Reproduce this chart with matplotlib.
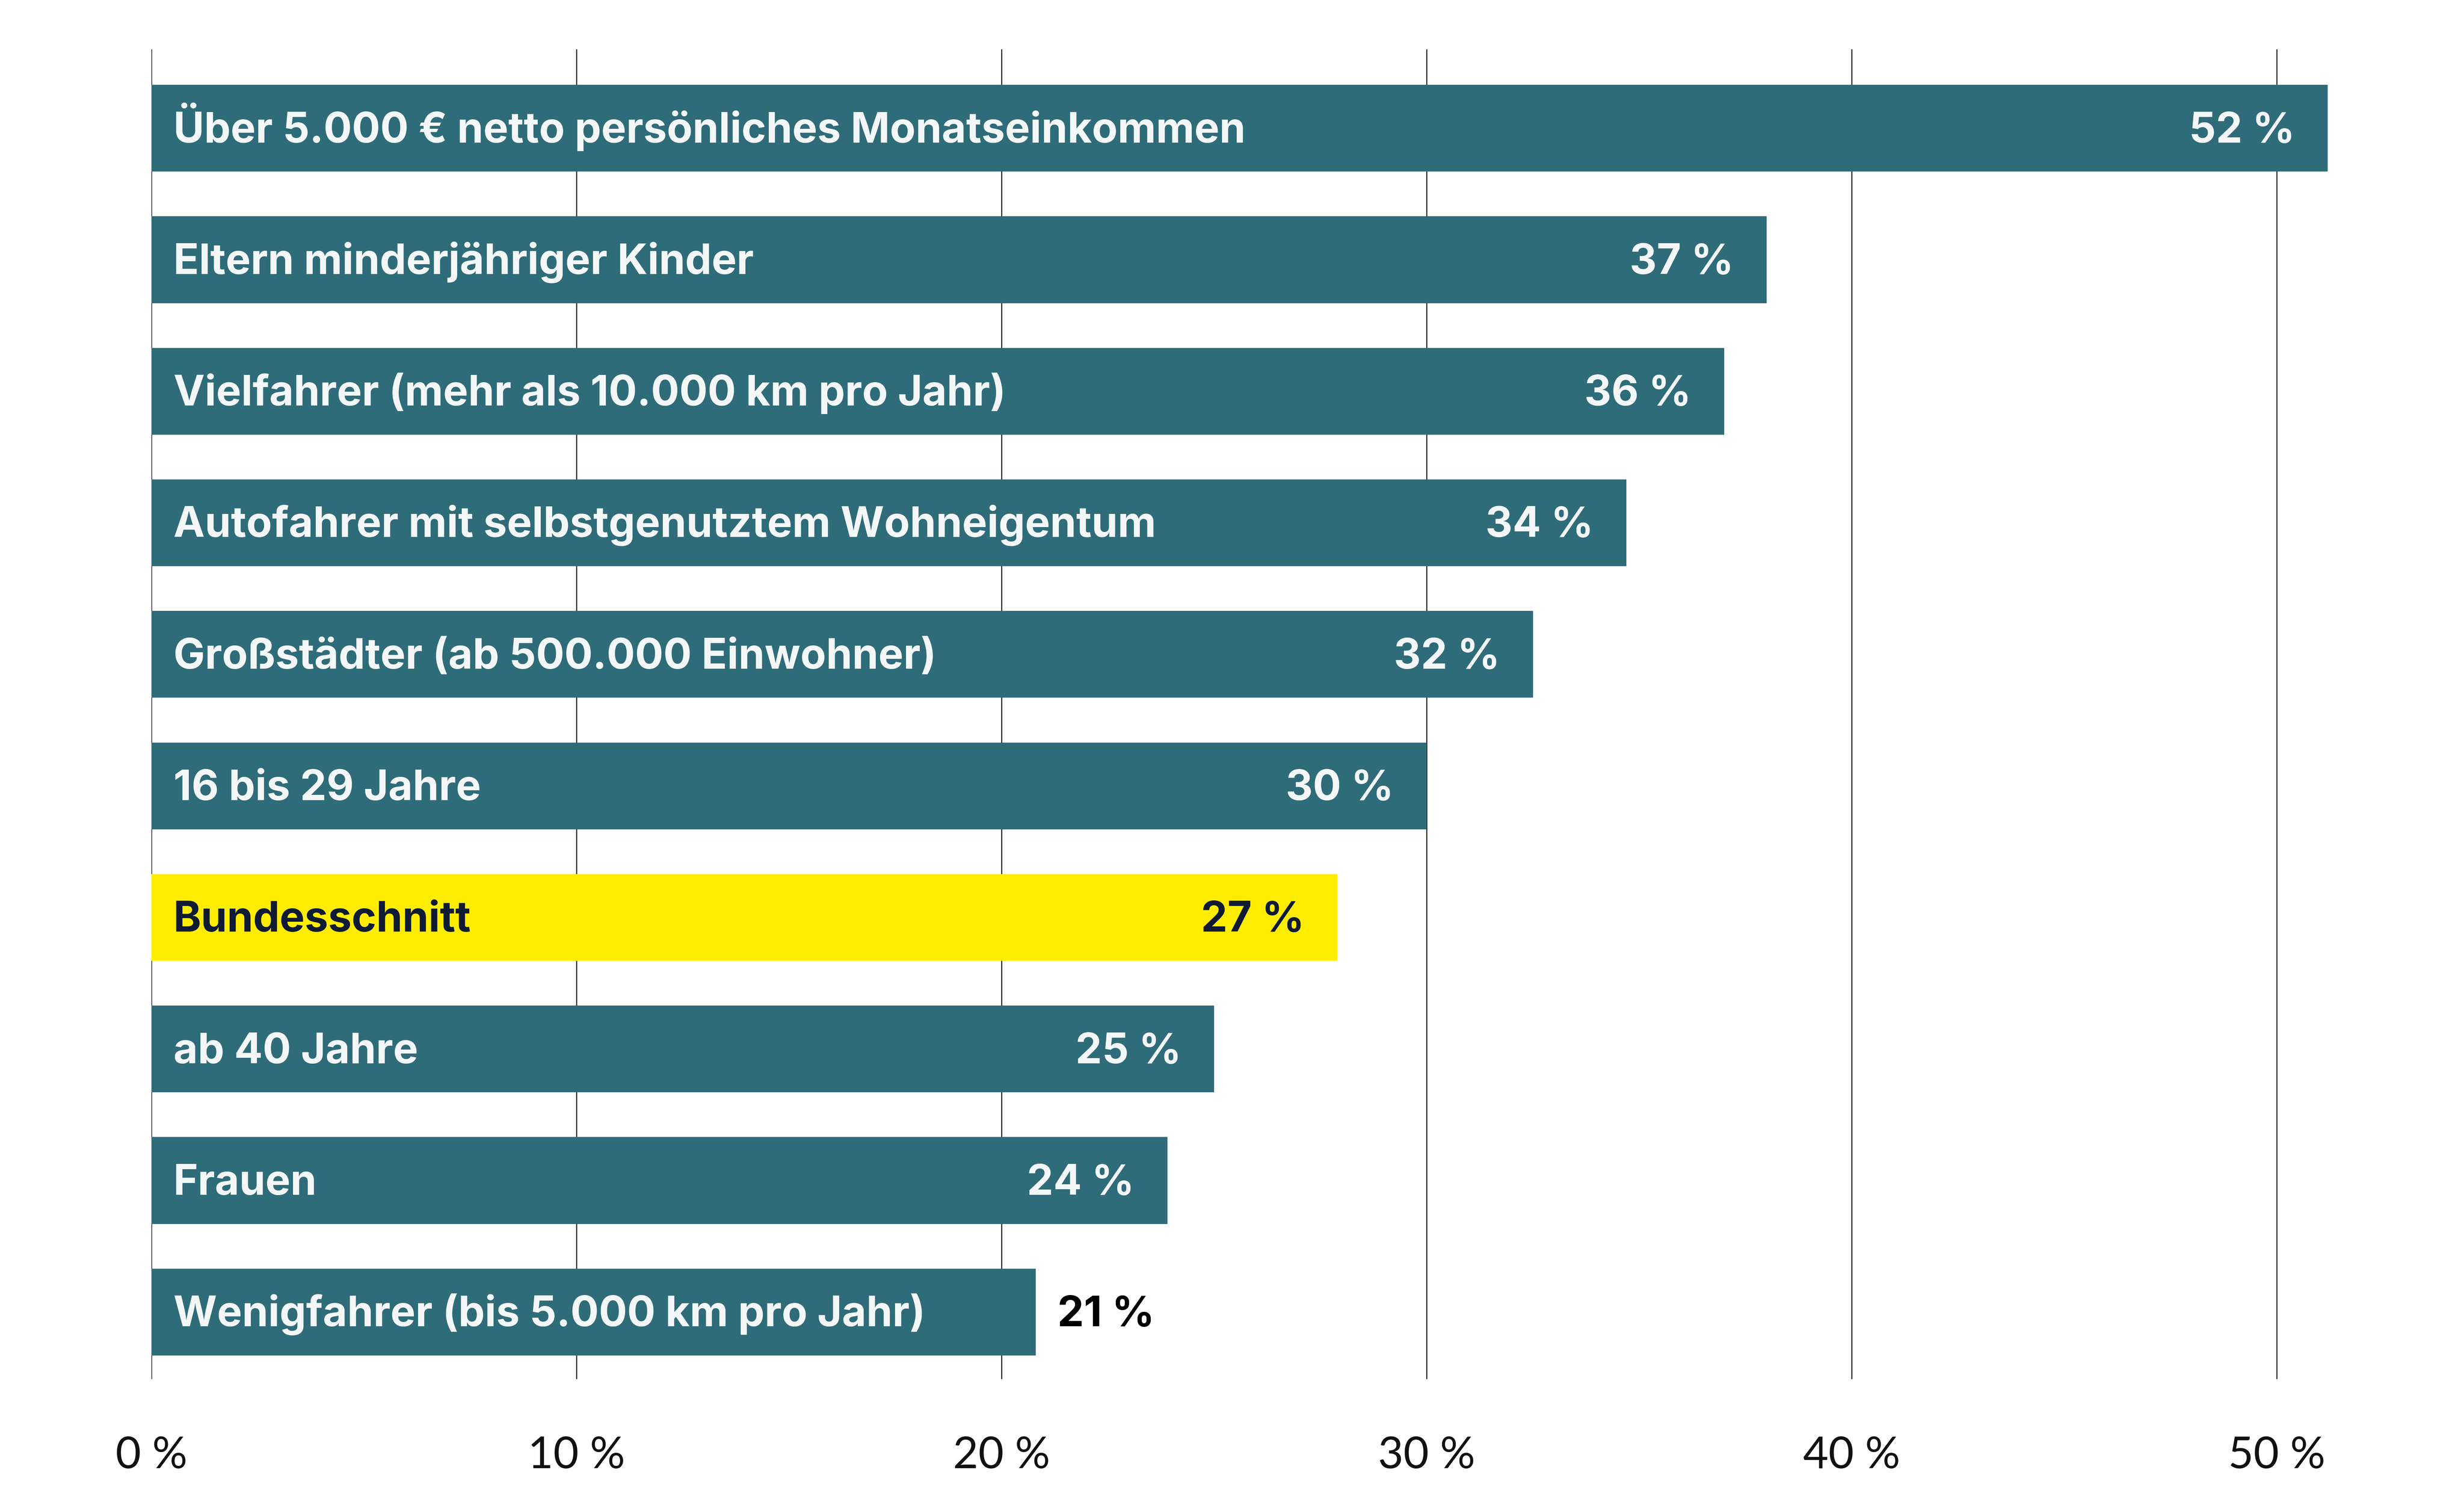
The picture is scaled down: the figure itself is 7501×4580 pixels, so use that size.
import matplotlib
matplotlib.use('Agg')
import matplotlib.pyplot as plt

# Gruppen (von oben nach unten)
categories = [
    'Über 5.000 € netto persönliches Monatseinkommen',
    'Eltern minderjähriger Kinder',
    'Vielfahrer (mehr als 10.000 km pro Jahr)',
    'Autofahrer mit selbstgenutztem Wohneigentum',
    'Großstädter (ab 500.000 Einwohner)',
    '16 bis 29 Jahre',
    'Bundesschnitt',
    'ab 40 Jahre',
    'Frauen',
    'Wenigfahrer (bis 5.000 km pro Jahr)',
]
# Balkenlängen
bar_values = [51.2, 38.0, 37.0, 34.7, 32.5, 30.0, 27.9, 25.0, 23.9, 20.8]
# Beschriftete Werte
value_labels = ['52 %', '37 %', '36 %', '34 %', '32 %', '30 %', '27 %', '25 %', '24 %', '21 %']
highlight = 'Bundesschnitt'
outside = ['Wenigfahrer (bis 5.000 km pro Jahr)']

tick_values = [0, 10, 20, 30, 40, 50]
tick_labels = ['0 %', '10 %', '20 %', '30 %', '40 %', '50 %']

TEAL = '#2F6C79'
YELLOW = '#FFED00'
WHITE = '#F4F7F8'
NAVY = '#0F1A33'

plt.rcParams['font.family'] = ['Lato', 'DejaVu Sans']
BAR_FONT = ['Inter', 'Lato', 'DejaVu Sans']

fig = plt.figure(figsize=(7501 / 480, 4580 / 480), dpi=480)
ax = fig.add_axes([461 / 7501, 1 - 4197 / 4580, (53 * 129.4) / 7501, (4197 - 150) / 4580])

y = list(range(len(categories)))
colors = [YELLOW if c == highlight else TEAL for c in categories]
bars = ax.barh(y, bar_values, height=0.66, color=colors, zorder=2)

ax.set_xlim(0, 53)
ax.set_ylim(9.51, -0.6)

# Gitterlinien
ax.set_xticks(tick_values)
ax.set_xticklabels(tick_labels, fontsize=20)
ax.grid(axis='x', color='#222222', linewidth=0.5, zorder=0)
ax.set_axisbelow(True)
ax.set_yticks([])
ax.tick_params(axis='x', length=0, pad=26, colors='#111111')
for s in ax.spines.values():
    s.set_visible(False)

# Beschriftungen in den Balken
for i, (bar, cat, lab) in enumerate(zip(bars, categories, value_labels)):
    txt_color = NAVY if cat == highlight else WHITE
    ax.annotate(cat, xy=(0, i), xytext=(10, -6.5), textcoords='offset points',
                ha='left', va='baseline', fontsize=19.2, fontweight='bold',
                color=txt_color, family=BAR_FONT)
    w = bar.get_width()
    if cat in outside:
        ax.annotate(lab, xy=(w, i), xytext=(10, -6.5), textcoords='offset points',
                    ha='left', va='baseline', fontsize=19.2, fontweight='bold',
                    color='#000000', family=BAR_FONT)
    else:
        ax.annotate(lab, xy=(w, i), xytext=(-15, -6.5), textcoords='offset points',
                    ha='right', va='baseline', fontsize=19.2, fontweight='bold',
                    color=txt_color, family=BAR_FONT)

fig.savefig('out.png', dpi=480, facecolor='white')
